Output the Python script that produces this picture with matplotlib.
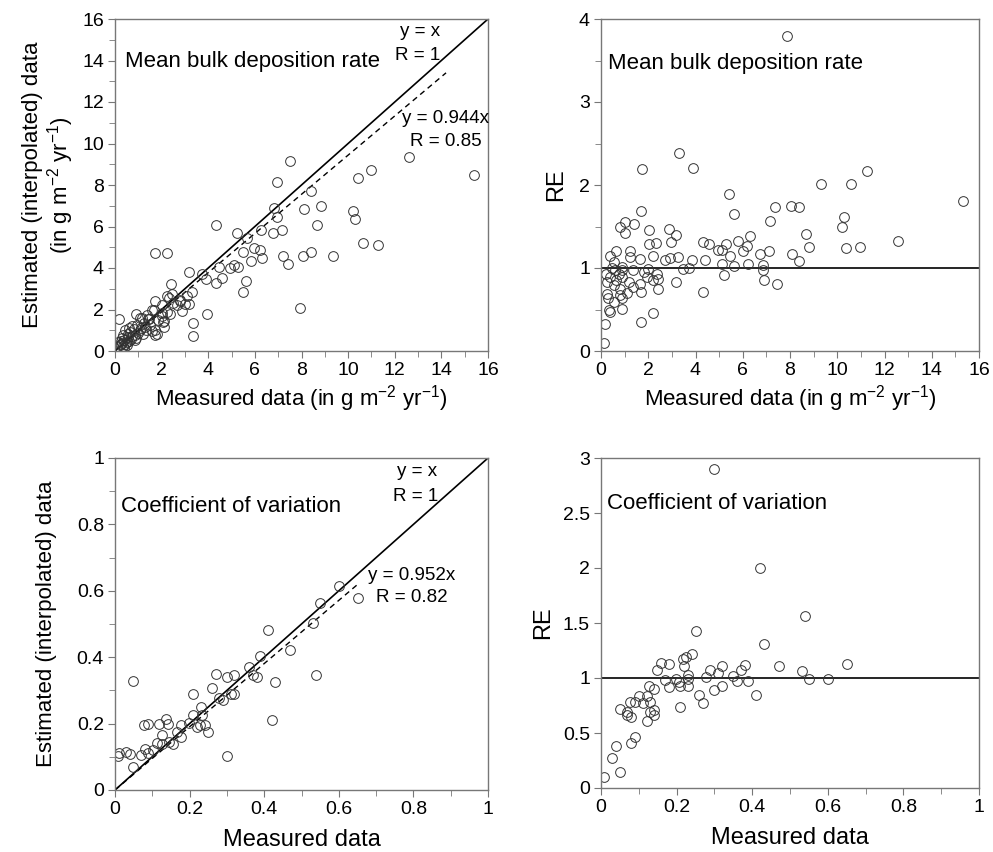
import matplotlib
matplotlib.use('Agg')
import matplotlib.pyplot as plt
from matplotlib.ticker import MultipleLocator

plt.rcParams['font.family'] = ['Liberation Sans', 'DejaVu Sans']
plt.rcParams['mathtext.default'] = 'regular'

# mean bulk deposition rate: measured vs estimated
bulk_meas = [7.51, 15.38, 12.59, 10.99, 10.41, 6.94, 8.40, 8.84, 8.11, 6.82, 6.94, 10.23, 10.31, 8.67,
             4.33, 7.15, 6.25, 6.77, 5.22, 5.65, 10.63, 11.30, 1.72, 2.22, 5.98, 6.22, 5.48, 6.32,
             7.20, 8.08, 8.40, 9.33, 7.40, 5.84, 5.11, 5.29, 4.94, 4.44, 3.19, 3.72, 3.89, 4.61,
             4.33, 5.62, 5.47, 2.39, 1.72, 2.22, 2.43, 2.79, 3.10, 3.29, 3.00, 3.19, 2.86, 2.00,
             1.57, 2.36, 2.22, 2.00, 2.05, 3.93, 7.94, 3.33, 3.36, 1.72, 1.79, 0.17, 0.90, 1.07,
             1.36, 2.30, 2.80, 1.66, 1.15, 1.44, 2.02, 2.10, 2.09, 1.73, 1.60, 1.30, 0.72, 0.43,
             0.29, 0.14, 0.57, 0.86, 1.07, 0.20, 0.25, 0.30, 0.35, 0.40, 0.45, 0.50, 0.55, 0.60,
             0.65, 0.70, 0.75, 0.80, 0.85, 0.95, 1.00, 1.10, 1.20, 1.25, 1.35, 1.50, 0.10, 0.35,
             0.50, 0.60, 0.90, 0.40, 0.25, 1.40, 1.85, 2.50, 2.65]
bulk_est = [9.18, 8.46, 9.37, 8.73, 8.33, 8.14, 7.71, 6.99, 6.83, 6.91, 6.46, 6.75, 6.35, 6.09,
            6.06, 5.85, 5.85, 5.71, 5.71, 5.46, 5.22, 5.13, 4.73, 4.74, 4.97, 4.86, 4.78, 4.49,
            4.57, 4.58, 4.78, 4.60, 4.20, 4.33, 4.13, 4.05, 4.01, 4.05, 3.81, 3.73, 3.46, 3.53,
            3.29, 3.37, 2.85, 3.22, 2.40, 2.64, 2.77, 2.45, 2.64, 2.85, 2.26, 2.26, 1.92, 2.21,
            1.97, 1.76, 1.89, 1.68, 1.41, 1.76, 2.05, 1.36, 0.72, 1.01, 0.80, 1.52, 1.76, 1.57,
            1.73, 2.54, 2.41, 1.98, 1.58, 1.54, 1.82, 1.45, 1.17, 0.77, 0.95, 1.17, 1.20, 0.99,
            0.62, 0.43, 0.68, 0.79, 0.99, 0.30, 0.50, 0.40, 0.25, 0.55, 0.35, 0.45, 0.80, 0.50,
            0.90, 0.60, 0.70, 1.05, 0.55, 1.25, 0.85, 1.10, 0.80, 1.35, 1.00, 1.25, 0.20, 0.75,
            0.30, 1.10, 0.65, 0.15, 0.35, 1.55, 1.50, 2.30, 2.20]

# RE of bulk deposition rate
re_bulk_x = [7.89, 3.31, 1.73, 3.91, 11.25, 9.30, 10.60, 15.34, 5.43, 1.69, 5.61, 7.37, 8.03, 8.37,
             7.17, 10.30, 10.21, 8.66, 6.29, 12.56, 8.82, 10.39, 10.97, 0.82, 1.00, 1.00, 1.38, 2.04,
             2.86, 3.18, 2.95, 2.33, 2.05, 4.33, 4.59, 5.27, 5.81, 6.20, 4.94, 5.11, 5.99, 7.12,
             6.74, 8.07, 8.37, 0.63, 1.21, 0.39, 1.24, 1.63, 2.18, 2.69, 2.93, 3.28, 3.87, 4.42,
             5.44, 5.11, 5.64, 6.24, 6.86, 3.46, 3.74, 6.84, 5.22, 3.19, 4.33, 6.91, 7.47, 0.53,
             0.91, 0.46, 0.91, 1.35, 2.01, 1.80, 2.39, 2.40, 2.22, 1.94, 1.20, 1.63, 1.34, 2.40,
             1.69, 0.82, 0.53, 0.25, 0.22, 0.37, 0.65, 0.89, 1.10, 0.82, 0.91, 0.25, 0.28, 0.53,
             0.89, 0.32, 0.39, 2.22, 1.69, 0.18, 0.14, 0.75, 0.58]
re_bulk_y = [3.80, 2.38, 2.19, 2.21, 2.17, 2.01, 2.01, 1.81, 1.89, 1.69, 1.65, 1.74, 1.75, 1.74,
             1.57, 1.62, 1.50, 1.41, 1.39, 1.33, 1.25, 1.24, 1.25, 1.50, 1.56, 1.42, 1.53, 1.46,
             1.47, 1.40, 1.31, 1.30, 1.29, 1.31, 1.29, 1.29, 1.33, 1.27, 1.22, 1.22, 1.21, 1.21,
             1.17, 1.17, 1.08, 1.21, 1.21, 1.15, 1.13, 1.11, 1.15, 1.10, 1.12, 1.13, 1.10, 1.10,
             1.14, 1.05, 1.03, 1.05, 1.04, 0.99, 1.00, 0.98, 0.91, 0.83, 0.71, 0.85, 0.81, 1.07,
             1.01, 1.00, 0.97, 0.98, 0.99, 0.95, 0.93, 0.87, 0.85, 0.89, 0.83, 0.81, 0.77, 0.75,
             0.71, 0.75, 0.79, 0.83, 0.93, 0.89, 0.85, 0.89, 0.70, 0.67, 0.64, 0.69, 0.64, 0.59,
             0.51, 0.49, 0.47, 0.46, 0.35, 0.32, 0.10, 0.93, 0.97]

# coefficient of variation: measured vs estimated
cv_meas = [0.049, 0.600, 0.549, 0.652, 0.532, 0.411, 0.470, 0.390, 0.360, 0.370, 0.380, 0.540,
           0.430, 0.270, 0.300, 0.320, 0.260, 0.280, 0.290, 0.310, 0.320, 0.210, 0.230, 0.210,
           0.232, 0.228, 0.220, 0.240, 0.250, 0.198, 0.420, 0.178, 0.178, 0.138, 0.141, 0.119,
           0.089, 0.079, 0.125, 0.167, 0.156, 0.145, 0.112, 0.125, 0.080, 0.101, 0.089, 0.069,
           0.012, 0.029, 0.040, 0.009, 0.049, 0.300]
cv_est = [0.329, 0.614, 0.562, 0.577, 0.504, 0.481, 0.423, 0.404, 0.371, 0.346, 0.339, 0.346,
          0.326, 0.349, 0.341, 0.346, 0.308, 0.278, 0.271, 0.289, 0.289, 0.288, 0.251, 0.226,
          0.226, 0.196, 0.189, 0.196, 0.176, 0.201, 0.211, 0.196, 0.160, 0.214, 0.198, 0.199,
          0.199, 0.196, 0.165, 0.174, 0.138, 0.145, 0.142, 0.140, 0.125, 0.120, 0.112, 0.105,
          0.110, 0.115, 0.108, 0.103, 0.068, 0.103]

# RE of coefficient of variation
re_cv_x = [0.300, 0.420, 0.541, 0.250, 0.430, 0.242, 0.225, 0.218, 0.220, 0.160, 0.179, 0.149,
           0.651, 0.470, 0.380, 0.371, 0.320, 0.288, 0.310, 0.531, 0.350, 0.231, 0.279, 0.199,
           0.169, 0.361, 0.389, 0.550, 0.600, 0.231, 0.207, 0.209, 0.179, 0.231, 0.320, 0.300,
           0.410, 0.260, 0.271, 0.209, 0.128, 0.139, 0.100, 0.121, 0.077, 0.089, 0.110, 0.130,
           0.049, 0.070, 0.069, 0.080, 0.130, 0.139, 0.140, 0.121, 0.090, 0.080, 0.040, 0.029,
           0.049, 0.009]
re_cv_y = [2.90, 2.00, 1.56, 1.43, 1.31, 1.22, 1.19, 1.17, 1.11, 1.14, 1.13, 1.07,
           1.13, 1.11, 1.12, 1.07, 1.11, 1.07, 1.05, 1.06, 1.02, 1.03, 1.01, 0.99,
           0.98, 0.97, 0.97, 0.99, 0.99, 0.99, 0.96, 0.93, 0.92, 0.93, 0.93, 0.89,
           0.85, 0.85, 0.77, 0.74, 0.93, 0.90, 0.84, 0.84, 0.78, 0.78, 0.77, 0.78,
           0.72, 0.69, 0.66, 0.65, 0.69, 0.71, 0.66, 0.61, 0.46, 0.41, 0.38, 0.27,
           0.15, 0.10]

fig = plt.figure(figsize=(9.93, 8.52), dpi=100)
W, H = 993.0, 852.0
ax1 = fig.add_axes([115 / W, 1 - 351 / H, 373 / W, 332 / H])
ax2 = fig.add_axes([601 / W, 1 - 351 / H, 378 / W, 332 / H])
ax3 = fig.add_axes([115 / W, 1 - 790 / H, 373 / W, 332 / H])
ax4 = fig.add_axes([601 / W, 1 - 788 / H, 378 / W, 330 / H])

mk = dict(marker='o', ls='none', mfc='none', mec='#333333', mew=0.7, ms=7)
tick_fs = 14
lab_fs = 17
unit_fs = 16
txt_fs = 16
eq_fs = 13.5


def style(ax, xmax, xmaj, xmin, ymax, ymaj, ymin):
    ax.set_xlim(0, xmax)
    ax.set_ylim(0, ymax)
    ax.xaxis.set_major_locator(MultipleLocator(xmaj))
    ax.yaxis.set_major_locator(MultipleLocator(ymaj))
    if xmin:
        ax.xaxis.set_minor_locator(MultipleLocator(xmin))
    if ymin:
        ax.yaxis.set_minor_locator(MultipleLocator(ymin))
    for s in ax.spines.values():
        s.set_color('#777777')
        s.set_linewidth(1.0)
    ax.tick_params(which='both', direction='out', color='#777777', labelsize=tick_fs)
    ax.tick_params(which='major', length=5, pad=3)
    ax.tick_params(which='minor', length=4)


def fmt(v, pos):
    return ('%g' % v)


# panel 1
ax1.plot([0, 16], [0, 16], color='black', lw=1.2)
ax1.plot([0, 14.2], [0, 14.2 * 0.944], color='black', lw=1.0, ls=(0, (4, 3)))
ax1.plot(bulk_meas, bulk_est, **mk)
style(ax1, 16, 2, 1, 16, 2, 1)
ax1.text(0.43, 13.94, 'Mean bulk deposition rate', fontsize=txt_fs, va='center')
ax1.text(13.1, 15.4, 'y = x', fontsize=eq_fs, ha='center', va='center')
ax1.text(13.0, 14.26, 'R = 1', fontsize=eq_fs, ha='center', va='center')
ax1.text(14.17, 11.2, 'y = 0.944x', fontsize=eq_fs, ha='center', va='center')
ax1.text(14.17, 10.1, 'R = 0.85', fontsize=eq_fs, ha='center', va='center')
ax1.set_xlabel('Measured data (in g m$^{-2}$ yr$^{-1}$)', fontsize=unit_fs, labelpad=3)
ax1.set_ylabel('Estimated (interpolated) data\n(in g m$^{-2}$ yr$^{-1}$)', fontsize=unit_fs,
               labelpad=4, linespacing=1.1)

# panel 2
ax2.axhline(1, color='black', lw=1.2)
ax2.plot(re_bulk_x, re_bulk_y, **mk)
style(ax2, 16, 2, 1, 4, 1, 0.5)
ax2.text(0.3, 3.46, 'Mean bulk deposition rate', fontsize=txt_fs, va='center')
ax2.set_xlabel('Measured data (in g m$^{-2}$ yr$^{-1}$)', fontsize=unit_fs, labelpad=3)
ax2.set_ylabel('RE', fontsize=lab_fs)
ax2.yaxis.set_label_coords(-0.09, 0.5)

# panel 3
ax3.plot([0, 1], [0, 1], color='black', lw=1.2)
ax3.plot([0, 0.65], [0, 0.65 * 0.952], color='black', lw=1.0, ls=(0, (4, 3)))
ax3.plot(cv_meas, cv_est, **mk)
style(ax3, 1, 0.2, 0.1, 1, 0.2, 0.1)
ax3.xaxis.set_major_formatter(fmt)
ax3.yaxis.set_major_formatter(fmt)
ax3.text(0.015, 0.855, 'Coefficient of variation', fontsize=txt_fs, va='center')
ax3.text(0.81, 0.958, 'y = x', fontsize=eq_fs, ha='center', va='center')
ax3.text(0.805, 0.885, 'R = 1', fontsize=eq_fs, ha='center', va='center')
ax3.text(0.795, 0.647, 'y = 0.952x', fontsize=eq_fs, ha='center', va='center')
ax3.text(0.795, 0.579, 'R = 0.82', fontsize=eq_fs, ha='center', va='center')
ax3.set_xlabel('Measured data', fontsize=lab_fs, labelpad=8)
ax3.set_ylabel('Estimated (interpolated) data', fontsize=unit_fs, labelpad=14)

# panel 4
ax4.axhline(1, color='black', lw=1.2)
ax4.plot(re_cv_x, re_cv_y, **mk)
style(ax4, 1, 0.2, 0.1, 3, 0.5, None)
ax4.xaxis.set_major_formatter(fmt)
ax4.yaxis.set_major_formatter(fmt)
ax4.text(0.016, 2.59, 'Coefficient of variation', fontsize=txt_fs, va='center')
ax4.set_xlabel('Measured data', fontsize=lab_fs, labelpad=8)
ax4.set_ylabel('RE', fontsize=lab_fs)
ax4.yaxis.set_label_coords(-0.125, 0.5)

fig.savefig('out.png', dpi=100)
